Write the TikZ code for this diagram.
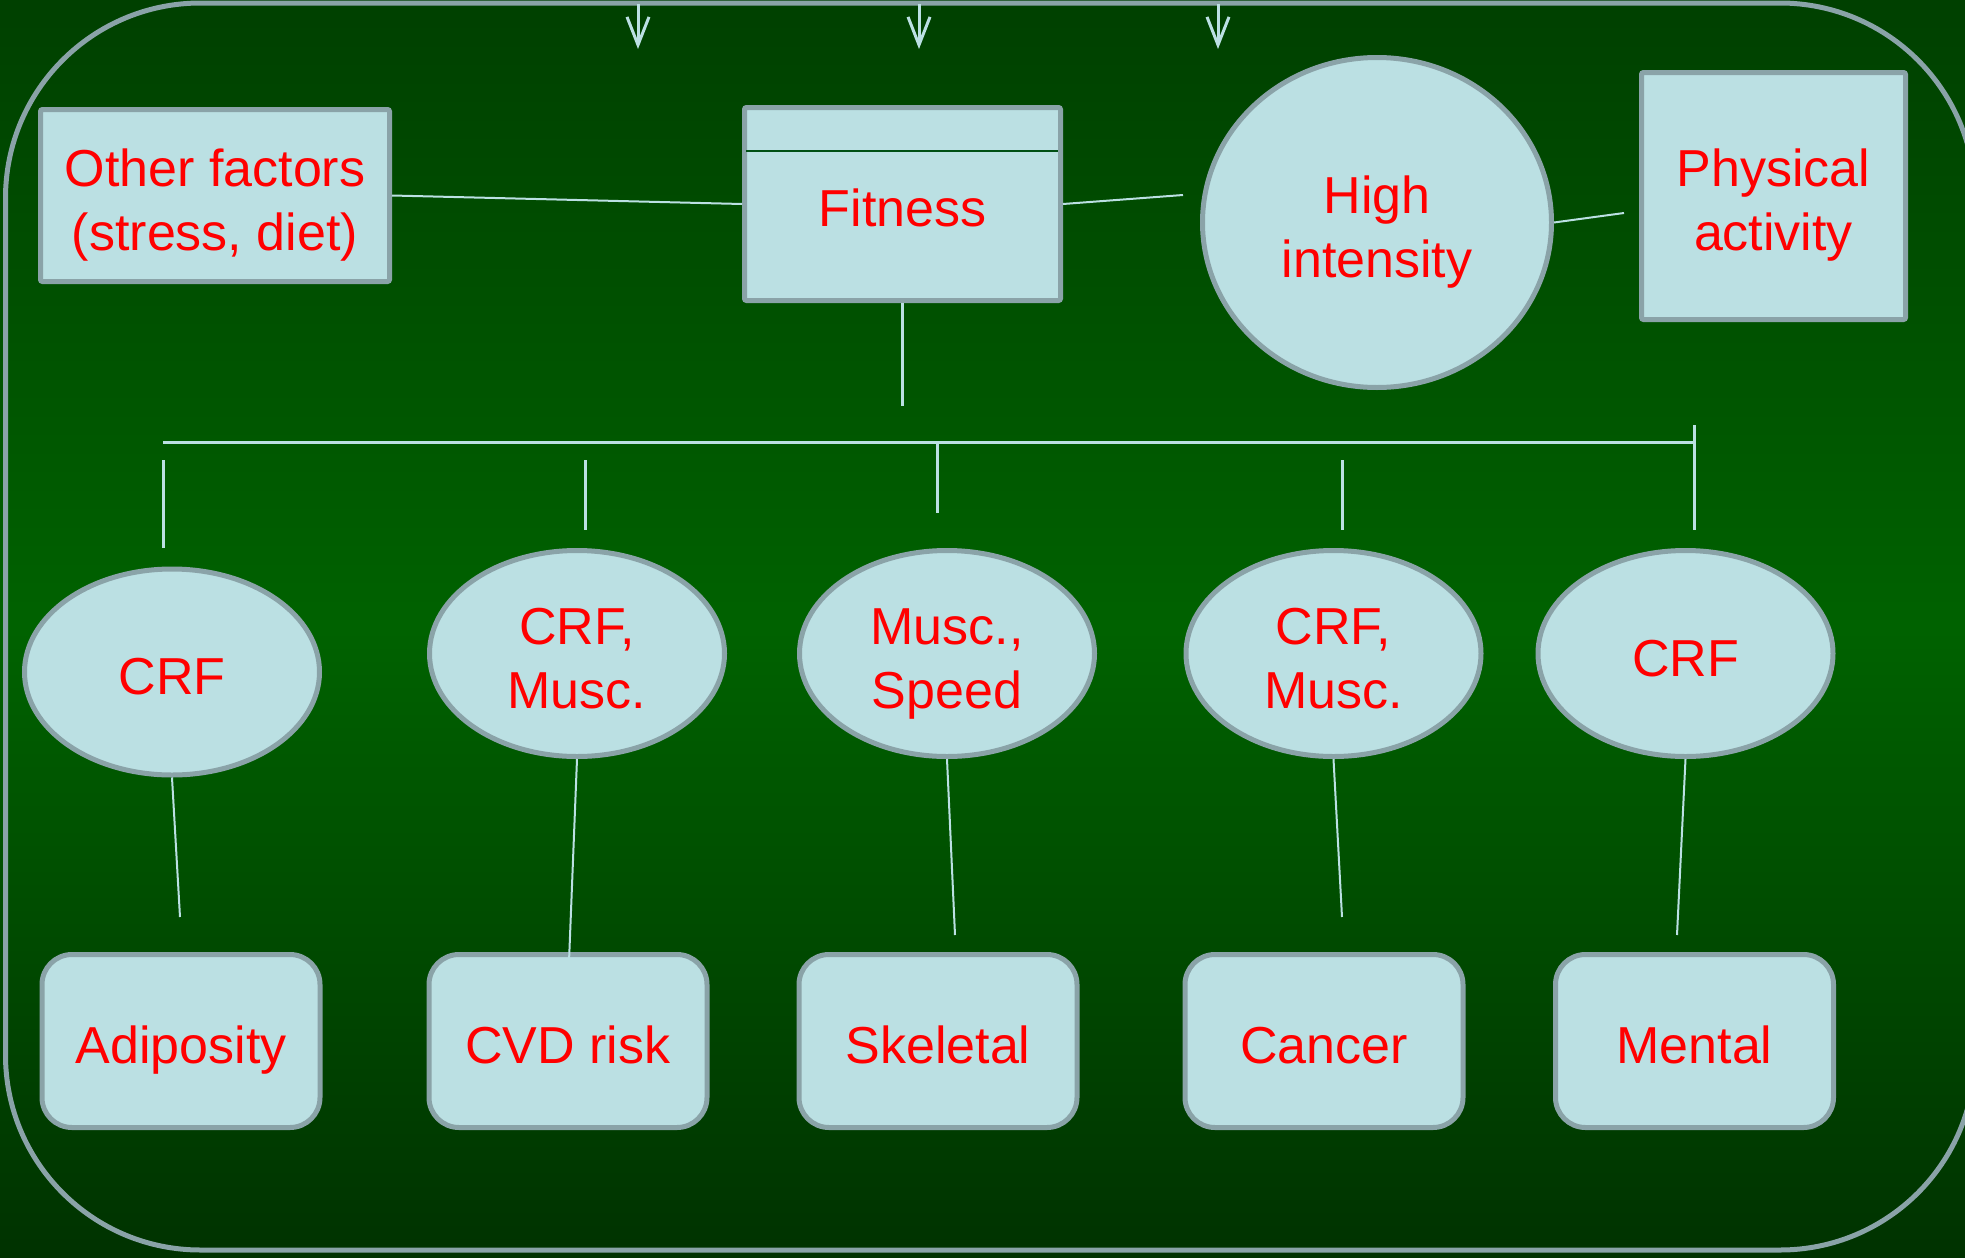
\documentclass[tikz,border=0pt]{standalone}
\usepackage{fontspec}
\setmainfont{Liberation Sans}
\usetikzlibrary{arrows.meta,shapes.geometric}
\definecolor{boxfill}{HTML}{BBE0E3}
\definecolor{boxline}{HTML}{8AA3A8}
\definecolor{linec}{HTML}{BBE0E3}
\definecolor{bgtop}{RGB}{0,64,0}
\definecolor{bgmid}{RGB}{0,98,0}
\definecolor{bgbot}{RGB}{0,50,0}
\definecolor{darkline}{RGB}{0,80,20}
\newcommand{\hstrut}{\rule{0pt}{28.6pt}}
\begin{document}
\begin{tikzpicture}[x=0.5pt,y=-0.5pt,
  base/.style={fill=boxfill,draw=boxline,line width=2.5pt,text=red,align=center,
    font=\fontsize{26}{32}\selectfont,inner sep=0pt,
    execute at begin node={\hstrut},
    execute at end node={\rule[-6pt]{0pt}{0pt}}},
  sqbox/.style={base,rectangle,rounded corners=1pt},
  oval/.style={base,ellipse,minimum width=147.5pt,minimum height=103pt},
  rbox/.style={base,rectangle,rounded corners=15pt,minimum width=139pt,minimum height=86.5pt},
  conn/.style={draw=linec,line width=1.5pt},
  fconn/.style={draw=linec,line width=1pt},
  inarrow/.style={draw=linec,line width=1.5pt,-{Straight Barb[length=14pt,width=11pt]}}
]
\useasboundingbox (0,0) rectangle (1965,1258);
\shade[top color=bgtop, bottom color=bgbot, middle color=bgmid] (0,0) rectangle (1965,1258);
\draw[draw=boxline,line width=2.5pt,rounded corners=97.5pt] (5.5,3) rectangle (1975,1250);

% incoming arrows at top
\coordinate (t1s) at (638,4);  \coordinate (t1e) at (638,49);
\coordinate (t2s) at (919,4);  \coordinate (t2e) at (919,49);
\coordinate (t3s) at (1218,4); \coordinate (t3e) at (1218,49);
\draw[inarrow] (t1s) -- (t1e);
\draw[inarrow] (t2s) -- (t2e);
\draw[inarrow] (t3s) -- (t3e);

% top row
\node[sqbox,minimum width=174.5pt,minimum height=86pt] (other) at (215,195.5) {\hstrut Other factors\\(stress, diet)};
\node[sqbox,minimum width=158pt,minimum height=96.5pt] (fit) at (902.5,204) {Fitness};
\draw[draw=darkline,line width=0.75pt] (746,151) -- (1058,151);
\node[base,ellipse,minimum width=174.5pt,minimum height=165pt] (high) at (1377,222.5) {\hstrut High\\intensity};
\node[sqbox,minimum width=132pt,minimum height=123.5pt] (pa) at (1773.5,196) {\hstrut Physical\\activity};

% middle row
\node[oval] (e1) at (172,672) {CRF};
\node[oval] (e2) at (577,653.5) {\hstrut CRF,\\Musc.};
\node[oval] (e3) at (947,653.5) {\hstrut Musc.,\\Speed};
\node[oval] (e4) at (1333.5,653.5) {\hstrut CRF,\\Musc.};
\node[oval] (e5) at (1685.5,653.5) {CRF};

% bottom row
\node[rbox] (b1) at (181,1041) {Adiposity};
\node[rbox] (b2) at (568,1041) {CVD risk};
\node[rbox] (b3) at (938,1041) {Skeletal};
\node[rbox] (b4) at (1324,1041) {Cancer};
\node[rbox] (b5) at (1694.5,1041) {Mental};

% free ends
\coordinate (c1) at (1183,195);
\coordinate (c2) at (1624,213);
\coordinate (c3) at (902.5,406);
\coordinate (bl) at (163,442);  \coordinate (br) at (1694,442);
\coordinate (rt) at (1694,425); \coordinate (rb) at (1694,530);
\coordinate (d1t) at (163,460); \coordinate (d1b) at (163,548);
\coordinate (d2t) at (585,460); \coordinate (d2b) at (585,530);
\coordinate (d3t) at (937,442); \coordinate (d3b) at (937,513);
\coordinate (d4t) at (1342,460); \coordinate (d4b) at (1342,530);
\coordinate (f1) at (180,917);
\coordinate (f2) at (568,987);
\coordinate (f3) at (955,935);
\coordinate (f4) at (1342,917);
\coordinate (f5) at (1677,935);

% connectors
\draw[fconn] (other.east) -- (fit.west);
\draw[fconn] (fit.east) -- (c1);
\draw[fconn] (high.east) -- (c2);
\draw[conn] (fit.south) -- (c3);
\draw[conn] (bl) -- (br);
\draw[conn] (rt) -- (rb);
\draw[conn] (d1t) -- (d1b);
\draw[conn] (d2t) -- (d2b);
\draw[conn] (d3t) -- (d3b);
\draw[conn] (d4t) -- (d4b);
\draw[fconn] (e1.south) -- (f1);
\draw[fconn] (e2.south) -- (f2);
\draw[fconn] (e3.south) -- (f3);
\draw[fconn] (e4.south) -- (f4);
\draw[fconn] (e5.south) -- (f5);
\end{tikzpicture}
\end{document}
